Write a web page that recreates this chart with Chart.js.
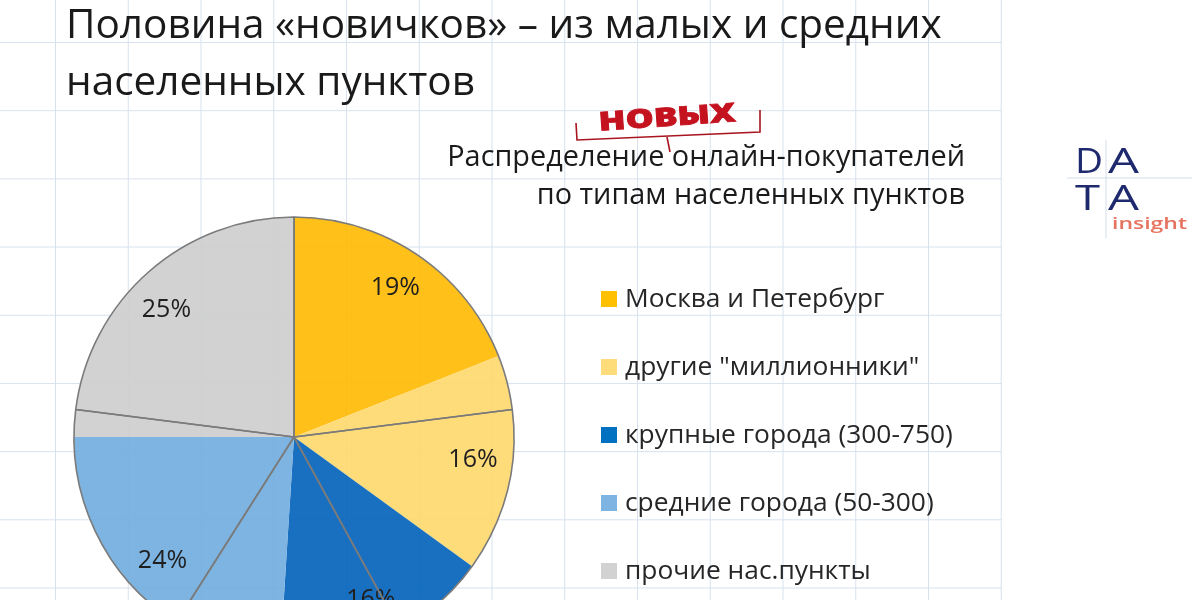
<!DOCTYPE html>
<html lang="ru">
<head>
<meta charset="utf-8">
<title>Половина «новичков» – из малых и средних населенных пунктов</title>
<script src="https://cdn.jsdelivr.net/npm/chart.js@4.4.1/dist/chart.umd.min.js"></script>
<style>
  html, body { margin: 0; padding: 0; }
  body { width: 1200px; height: 600px; overflow: hidden; position: relative; background: #fff; }
  #grid {
    position: absolute; left: 0; top: 0; width: 1002px; height: 600px;
    background-image: linear-gradient(to right, #d8e2ee 1px, transparent 1px),
                      linear-gradient(to bottom, #d8e2ee 1px, transparent 1px);
    background-size: 72.75px 68.2px;
    background-position: 55px 42px;
  }
  .pie { position: absolute; left: 64px; top: 207px; width: 460px; height: 460px; }
  #texts { position: absolute; left: 0; top: 0; }
</style>
</head>
<body>
<div id="grid"></div>
<div class="pie"><canvas id="pieFill"></canvas></div>
<div class="pie"><canvas id="pieOutline"></canvas></div>
<svg id="texts" width="1200" height="600" font-family="'Open Sans', sans-serif"></svg>
<script>
// Chart data
var categories = ['Москва и Петербург', 'другие "миллионники"', 'крупные города (300-750)', 'средние города (50-300)', 'прочие нас.пункты'];
var newBuyerShares = [19, 16, 16, 24, 25];      // filled slices, %
var allBuyerShares = [23, 19, 17, 18, 23];      // grey outline slices, %
var sliceColors = ['#FFC000', '#FFDC7A', '#0070C0', '#7DB4E1', '#D2D2D2'];

var titleLines = ['Половина «новичков» – из малых и средних', 'населенных пунктов'];
var subtitleLines = ['Распределение онлайн-покупателей', 'по типам населенных пунктов'];

// slightly see-through fill (grid shows through) that still looks like the solid colour
function seeThrough(hex, a) {
  var n = parseInt(hex.slice(1), 16);
  var ch = [n >> 16, (n >> 8) & 255, n & 255].map(function(c) {
    return Math.max(0, Math.round((c - 255 * (1 - a)) / a));
  });
  return 'rgba(' + ch.join(',') + ',' + a + ')';
}

// percentage labels inside the filled slices
var pctLabels = {
  id: 'pctLabels',
  afterDatasetsDraw: function(chart) {
    var ctx = chart.ctx;
    var meta = chart.getDatasetMeta(0);
    ctx.save();
    ctx.font = '25px "Open Sans", sans-serif';
    ctx.fillStyle = '#1f1f1f';
    ctx.textAlign = 'center';
    ctx.textBaseline = 'middle';
    meta.data.forEach(function(arc, i) {
      var p = arc.getProps(['x', 'y', 'startAngle', 'endAngle', 'outerRadius'], true);
      var mid = (p.startAngle + p.endAngle) / 2;
      var r = p.outerRadius * 0.82;
      ctx.fillText(chart.data.datasets[0].data[i] + '%', p.x + Math.cos(mid) * r, p.y + Math.sin(mid) * r);
    });
    ctx.restore();
  }
};

var commonOptions = {
  responsive: true,
  maintainAspectRatio: false,
  animation: false,
  events: [],
  layout: { padding: 10 },
  plugins: { legend: { display: false }, tooltip: { enabled: false } }
};

// filled pie
new Chart(document.getElementById('pieFill').getContext('2d'), {
  type: 'pie',
  data: {
    labels: categories,
    datasets: [{
      data: newBuyerShares,
      backgroundColor: sliceColors.map(function(c) { return seeThrough(c, 0.9); }),
      borderWidth: 0,
      radius: 220
    }]
  },
  options: commonOptions,
  plugins: [pctLabels]
});

// outline pie on top (only borders)
new Chart(document.getElementById('pieOutline').getContext('2d'), {
  type: 'pie',
  data: {
    labels: categories,
    datasets: [{
      data: allBuyerShares,
      backgroundColor: 'rgba(0,0,0,0)',
      borderColor: '#7b7b7b',
      borderWidth: 1.6,
      radius: 220
    }]
  },
  options: commonOptions
});

// texts around the chart
var svg = document.getElementById('texts');
var NS = 'http://www.w3.org/2000/svg';

function addText(str, x, y, size, attrs) {
  var t = document.createElementNS(NS, 'text');
  t.setAttribute('x', x);
  t.setAttribute('y', y);
  t.setAttribute('font-size', size);
  for (var k in attrs) t.setAttribute(k, attrs[k]);
  t.textContent = str;
  svg.appendChild(t);
  return t;
}
function fitSize(str, width, attrs) {
  var t = addText(str, 0, -200, 100, attrs || {});
  var len = t.getComputedTextLength();
  svg.removeChild(t);
  return 100 * width / len;
}
function addLine(pts, color, w) {
  var l = document.createElementNS(NS, 'polyline');
  l.setAttribute('points', pts);
  l.setAttribute('fill', 'none');
  l.setAttribute('stroke', color);
  l.setAttribute('stroke-width', w);
  svg.appendChild(l);
}

// title
var titleSize = fitSize(titleLines[0], 876);
addText(titleLines[0], 66, 38, titleSize, { fill: '#1a1a1a' });
addText(titleLines[1], 66, 95, titleSize, { fill: '#1a1a1a' });

// subtitle (right aligned)
var subSize = fitSize(subtitleLines[0], 518);
addText(subtitleLines[0], 965, 166, subSize, { fill: '#1a1a1a', 'text-anchor': 'end' });
addText(subtitleLines[1], 965, 204, subSize, { fill: '#1a1a1a', 'text-anchor': 'end' });

// "НОВЫХ" stamp with bracket
addLine('576,123 577,140 760,132 760,110', '#a8141f', 1.6);
addLine('667,137 670,152', '#a8141f', 1.6);
addText('НОВЫХ', 667, 126, 26, {
  fill: '#c4121f', stroke: '#c4121f', 'stroke-width': 0.8, 'font-weight': 800, 'text-anchor': 'middle',
  textLength: 137, lengthAdjust: 'spacingAndGlyphs', transform: 'rotate(-4 667 116)'
});

// legend
var legendSize = fitSize(categories[2], 328);
categories.forEach(function(name, i) {
  var cy = 299 + i * 68;
  var r = document.createElementNS(NS, 'rect');
  r.setAttribute('x', 601);
  r.setAttribute('y', cy - 8);
  r.setAttribute('width', 16);
  r.setAttribute('height', 16);
  r.setAttribute('fill', sliceColors[i]);
  svg.appendChild(r);
  addText(name, 625, cy + 8, legendSize, { fill: '#262626' });
});

// logo
addLine('1067,178 1192,178', '#d3dcea', 1);
addLine('1106,140 1106,238', '#d3dcea', 1);
var logoAttrs = { fill: '#1f2a6e', lengthAdjust: 'spacingAndGlyphs' };
addText('D', 1075, 173, 35, Object.assign({ textLength: 28 }, logoAttrs));
addText('A', 1108, 173, 35, Object.assign({ textLength: 31 }, logoAttrs));
addText('T', 1075, 210, 35, Object.assign({ textLength: 25 }, logoAttrs));
addText('A', 1108, 210, 35, Object.assign({ textLength: 31 }, logoAttrs));
addText('insight', 1112, 229, 16, { fill: '#e5735f', 'font-weight': 600, textLength: 75, lengthAdjust: 'spacingAndGlyphs' });
</script>
</body>
</html>
